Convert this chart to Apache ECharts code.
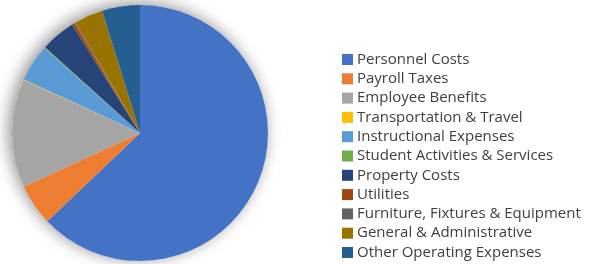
<!DOCTYPE html>
<html>
<head>
<meta charset="utf-8">
<script src="https://cdn.jsdelivr.net/npm/echarts@6/dist/echarts.min.js"></script>
<style>
  html, body { margin: 0; padding: 0; background: #fff; }
  #chart { width: 600px; height: 264px; }
</style>
</head>
<body>
<div id="chart"></div>
<script>
var categories = ['Personnel Costs', 'Payroll Taxes', 'Employee Benefits', 'Transportation & Travel',
  'Instructional Expenses', 'Student Activities & Services', 'Property Costs', 'Utilities',
  'Furniture, Fixtures & Equipment', 'General & Administrative', 'Other Operating Expenses'];
var values = [62.9, 5.2, 13.7, 0.05, 4.7, 0.15, 4.4, 0.35, 0.15, 3.6, 4.8];
var colors = ['#4472C4', '#ED7D31', '#A5A5A5', '#FFC000', '#5B9BD5', '#70AD47',
  '#264478', '#9E480E', '#636363', '#997300', '#255E91'];

var seriesData = [];
categories.forEach(function (name, i) {
  seriesData.push({ name: name, value: values[i], itemStyle: { color: colors[i] } });
});

var chart = echarts.init(document.getElementById('chart'));
chart.setOption({
  backgroundColor: '#fff',
  animation: false,
  legend: {
    orient: 'vertical',
    left: 342,
    top: 52,
    height: 240,
    padding: 0,
    itemWidth: 11,
    itemHeight: 11,
    itemGap: 4.3,
    icon: 'rect',
    selectedMode: false,
    textStyle: {
      fontFamily: 'Open Sans',
      fontSize: 15,
      lineHeight: 15,
      color: '#404040',
      padding: [0, 0, 0, -1]
    },
    data: categories
  },
  series: [
    {
      // shadow under the pie
      name: 'shadow',
      type: 'pie',
      silent: true,
      center: [140, 133],
      radius: [0, 128],
      label: { show: false },
      labelLine: { show: false },
      itemStyle: {
        color: '#fff',
        shadowBlur: 16,
        shadowColor: 'rgba(0,0,0,0.45)',
        shadowOffsetX: -3,
        shadowOffsetY: -2
      },
      data: [{ value: 1, name: '' }],
      z: 0
    },
    {
      type: 'pie',
      center: [140, 133],
      radius: [0, 128],
      startAngle: 90,
      clockwise: true,
      label: { show: false },
      labelLine: { show: false },
      itemStyle: { borderWidth: 0 },
      emphasis: { disabled: true },
      data: seriesData,
      z: 2
    }
  ]
});
</script>
</body>
</html>
